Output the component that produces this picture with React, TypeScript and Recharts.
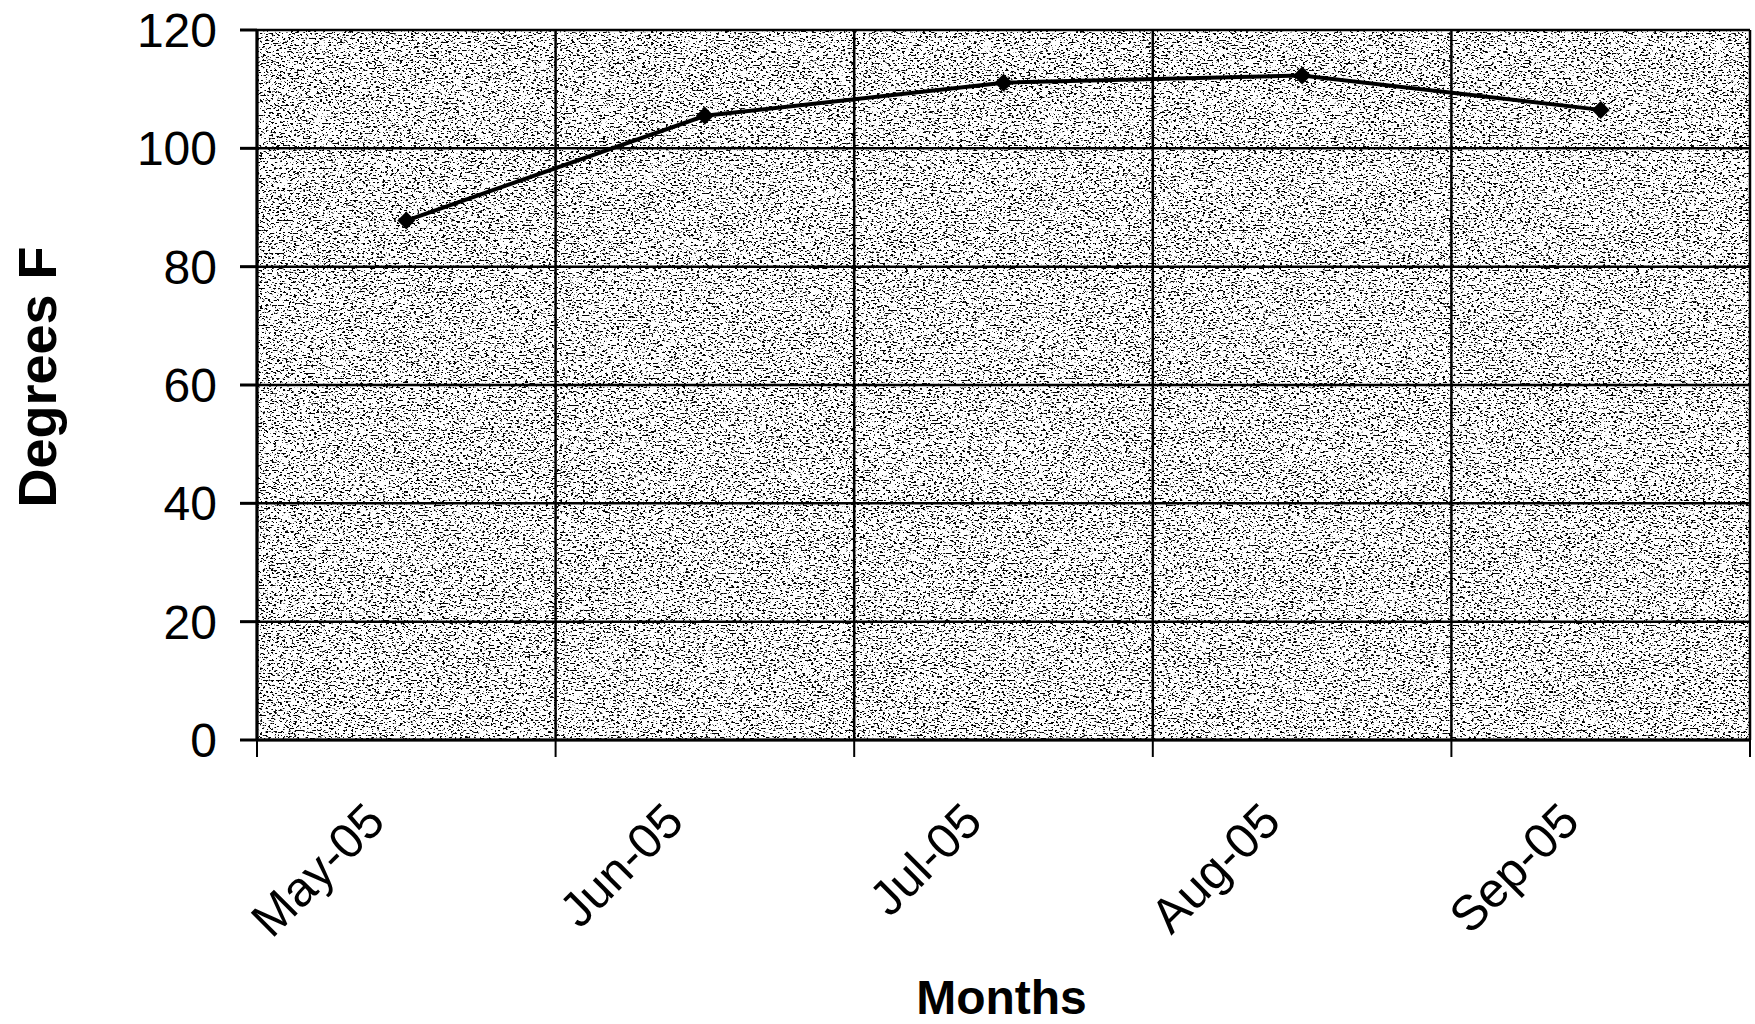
import React from "react";
import { ComposedChart, Line, XAxis, YAxis, CartesianGrid, ReferenceArea, Label } from "recharts";

// monthly readings, degrees F
const months = ["May-05", "Jun-05", "Jul-05", "Aug-05", "Sep-05"];
const tempF = [87.8, 105.5, 111.1, 112.3, 106.5];
const yTicks = [0, 20, 40, 60, 80, 100, 120];

const data = months.map((month, i) => ({ month, temp: tempF[i] }));

const FONT = '"Liberation Sans", Arial, Helvetica, sans-serif';

// rotated month label, plus the tick marks on the slot boundaries
function MonthTick({ x, y, payload, width, visibleTicksCount, index }: any) {
  const half = payload.offset ?? width / visibleTicksCount / 2;
  const last = index === visibleTicksCount - 1;
  return (
    <g>
      <line x1={x - half} y1={y} x2={x - half} y2={y + 17} stroke="#000" strokeWidth={2} />
      {last && <line x1={x + half} y1={y} x2={x + half} y2={y + 17} stroke="#000" strokeWidth={2} />}
      <text
        transform={`translate(${x - 19},${y + 84}) rotate(-45)`}
        textAnchor="end"
        fontSize={49}
        fontFamily={FONT}
        fill="#000"
      >
        {payload.value}
      </text>
    </g>
  );
}

function Diamond({ cx, cy }: any) {
  if (cx == null || cy == null) return null;
  const r = 9;
  return <polygon points={`${cx},${cy - r} ${cx + r},${cy} ${cx},${cy + r} ${cx - r},${cy}`} fill="#000" />;
}

// speckled grey plot background
function Stipple({ x, y, width, height }: any) {
  return <rect x={x} y={y} width={width} height={height} fill="#fff" filter="url(#stipple)" />;
}

// vertical grid lines sit between the months, not on them
const monthEdges = ({ offset }: any) =>
  Array.from({ length: months.length + 1 }, (_, i) => offset.left + (offset.width * i) / months.length);

export default function App() {
  return (
    <div style={{ position: "absolute", left: 0, top: 0, background: "#fff" }}>
      <svg width={0} height={0} style={{ position: "absolute" }}>
        <defs>
          <filter id="stipple" x="0" y="0" width="1" height="1" colorInterpolationFilters="sRGB">
            <feTurbulence type="fractalNoise" baseFrequency="0.35 0.6" numOctaves={2} seed={7} result="noise" />
            <feColorMatrix
              in="noise"
              type="matrix"
              values="0 0 0 0 0  0 0 0 0 0  0 0 0 0 0  -16 0 0 0 6.8"
              result="dots"
            />
            <feFlood floodColor="#ffffff" result="paper" />
            <feComposite in="dots" in2="paper" operator="over" />
          </filter>
        </defs>
      </svg>
      <ComposedChart width={1755} height={1024} data={data} margin={{ top: 30, right: 5, bottom: 0, left: 0 }}>
        <ReferenceArea y1={0} y2={120} shape={<Stipple />} zIndex={-150} />
        <CartesianGrid stroke="#000" strokeWidth={2.5} verticalCoordinatesGenerator={monthEdges} />
        <XAxis
          dataKey="month"
          scale="band"
          height={284}
          axisLine={{ stroke: "#000", strokeWidth: 3 }}
          tickLine={false}
          tickSize={0}
          tickMargin={0}
          interval={0}
          tick={<MonthTick />}
        >
          <Label
            content={({ viewBox }: any) => (
              <text
                x={viewBox.x + viewBox.width / 2 - 2}
                y={viewBox.y + 274}
                textAnchor="middle"
                fontSize={48}
                fontWeight="bold"
                fontFamily={FONT}
                fill="#000"
              >
                Months
              </text>
            )}
          />
        </XAxis>
        <YAxis
          domain={[0, 120]}
          ticks={yTicks}
          width={257}
          tickSize={17}
          tickMargin={23}
          tick={{ fontSize: 48, fontFamily: FONT, fill: "#000" }}
          axisLine={{ stroke: "#000", strokeWidth: 3 }}
          tickLine={{ stroke: "#000", strokeWidth: 3 }}
        >
          <Label
            content={({ viewBox }: any) => (
              <text
                transform={`translate(${viewBox.x + 56},${viewBox.y + viewBox.height / 2 - 8}) rotate(-90)`}
                textAnchor="middle"
                fontSize={54}
                fontWeight="bold"
                fontFamily={FONT}
                fill="#000"
              >
                Degrees F
              </text>
            )}
          />
        </YAxis>
        <Line
          dataKey="temp"
          stroke="#000"
          strokeWidth={4}
          dot={(p: any) => <Diamond key={p.index} {...p} />}
          isAnimationActive={false}
        />
      </ComposedChart>
    </div>
  );
}
